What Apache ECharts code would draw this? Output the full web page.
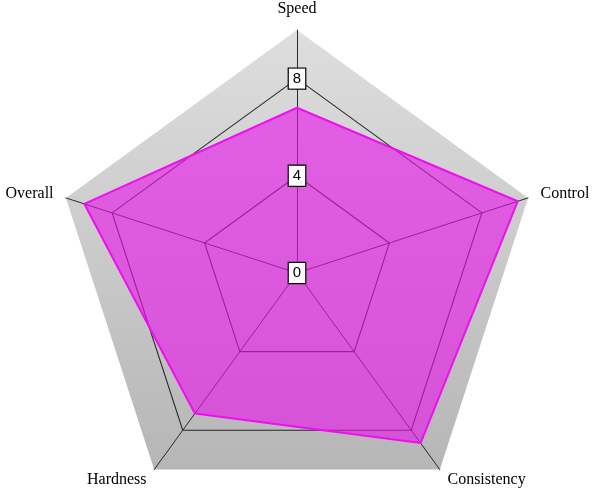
<!DOCTYPE html>
<html>
<head>
<meta charset="utf-8">
<script src="https://cdn.jsdelivr.net/npm/echarts@6/dist/echarts.min.js"></script>
<style>html,body{margin:0;padding:0;background:#fff}#c{width:600px;height:500px}</style>
</head>
<body>
<div id="c"></div>
<script>
// Indicators listed counterclockwise from the top
var categories = ['Speed', 'Overall', 'Hardness', 'Consistency', 'Control'];
var values = [6.8, 9.2, 7.15, 8.65, 9.55];
var tickLabels = ['0', '4', '8'];
var outerMax = 10;
var gridMax = 8;

var chart = echarts.init(document.getElementById('c'));
var center = [297, 273];
var R = 243;
var rGrid = R * gridMax / outerMax;

function ind(max, firstLabel) {
  return categories.map(function (n, i) {
    var o = { name: n, min: 0, max: max };
    if (i === 0 && firstLabel) o.axisLabel = { show: true };
    return o;
  });
}

chart.setOption({
  animation: false,
  radar: [
    {
      center: center, radius: R, startAngle: 90, splitNumber: 1, shape: 'polygon',
      indicator: ind(outerMax),
      axisName: { color: '#000', fontFamily: 'Liberation Serif', fontSize: 16 },
      nameGap: 13,
      axisLine: { show: true, lineStyle: { color: '#2a2a2a', width: 1 } },
      axisTick: { show: false },
      axisLabel: { show: false },
      splitLine: { show: false },
      splitArea: { show: true, areaStyle: { color: [{
        type: 'linear', x: 0, y: 30, x2: 0, y2: 470, global: true,
        colorStops: [{ offset: 0, color: '#dedede' }, { offset: 1, color: '#b6b6b6' }]
      }] } }
    },
    {
      center: center, radius: rGrid, startAngle: 90, splitNumber: 2, shape: 'polygon',
      indicator: ind(gridMax),
      axisName: { show: false },
      axisLine: { show: false },
      axisTick: { show: false },
      axisLabel: { show: false },
      splitLine: { show: true, lineStyle: { color: '#2a2a2a', width: 1.1 } },
      splitArea: { show: false }
    },
    {
      center: center, radius: rGrid, startAngle: 90, splitNumber: 2, shape: 'polygon', z: 10,
      indicator: ind(gridMax, true),
      axisName: { show: false },
      axisLine: { show: false },
      axisTick: { show: false },
      axisLabel: {
        show: false, margin: 0, align: 'center', verticalAlign: 'middle',
        color: '#000', fontFamily: 'Liberation Sans', fontSize: 15,
        backgroundColor: '#fff', borderColor: '#000', borderWidth: 1.2, padding: [3, 4, 2, 4],
        formatter: function (v, i) { return tickLabels[i] !== undefined ? tickLabels[i] : String(v); }
      },
      splitLine: { show: false },
      splitArea: { show: false }
    }
  ],
  series: [{
    type: 'radar',
    radarIndex: 0,
    symbol: 'none',
    z: 2,
    lineStyle: { color: '#f010f0', width: 2 },
    areaStyle: { color: 'rgba(233,20,233,0.62)', opacity: 1 },
    data: [{ value: values, name: 'Rating' }]
  }]
});
</script>
</body>
</html>
